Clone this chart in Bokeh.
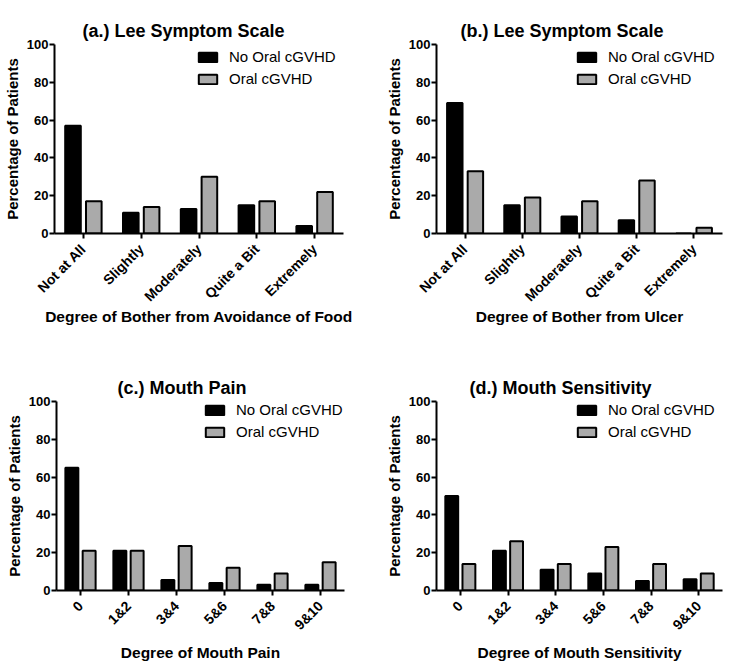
import math
from bokeh.plotting import figure
from bokeh.models import Range1d, FactorRange, FixedTicker, ColumnDataSource
from bokeh.transform import dodge
from bokeh.layouts import column, row
from bokeh.embed import file_html
from bokeh.resources import INLINE

# ---- data ----
lee_categories = ["Not at All", "Slightly", "Moderately", "Quite a Bit", "Extremely"]
scale_categories = ["0", "1&2", "3&4", "5&6", "7&8", "9&10"]

a_no_oral = [57, 11, 13, 15, 4]
a_oral = [17, 14, 30, 17, 22]

b_no_oral = [69, 15, 9, 7, 0]
b_oral = [33, 19, 17, 28, 3]

c_no_oral = [65, 21, 5.6, 4, 3, 3]
c_oral = [21, 21, 23.5, 12, 9, 15]

d_no_oral = [50, 21, 11, 9, 5, 6]
d_oral = [14, 26, 14, 23, 14, 9]

y_ticks = [0, 20, 40, 60, 80, 100]

FONT = "Liberation Sans"


def make_panel(title, cats, no_vals, oral_vals, xlabel, width, height,
               mbl, mbr, mbt, mbb, title_offset, xlabel_standoff, legend_loc):
    src = ColumnDataSource(dict(cat=cats, no=no_vals, oral=oral_vals))
    p = figure(x_range=FactorRange(*cats), y_range=Range1d(0, 100),
               width=width, height=height, output_backend="svg",
               toolbar_location=None, title=title,
               min_border_left=mbl, min_border_right=mbr,
               min_border_top=mbt, min_border_bottom=mbb)
    p.vbar(x=dodge("cat", -0.18, range=p.x_range), top="no", width=0.27,
           source=src, fill_color="black", line_color="black", line_width=2,
           legend_label="No Oral cGVHD")
    p.vbar(x=dodge("cat", 0.18, range=p.x_range), top="oral", width=0.27,
           source=src, fill_color="#aaaaaa", line_color="black", line_width=2,
           legend_label="Oral cGVHD")

    p.title.text_font = FONT
    p.title.text_font_size = "18px"
    p.title.text_font_style = "bold"
    p.title.text_color = "black"
    p.title.align = "left"
    p.title.offset = title_offset
    p.title.standoff = 8

    p.outline_line_color = None
    p.xgrid.grid_line_color = None
    p.ygrid.grid_line_color = None
    p.background_fill_color = "white"

    yax = p.yaxis[0]
    yax.ticker = FixedTicker(ticks=y_ticks)
    yax.minor_tick_line_color = None
    yax.major_tick_in = 0
    yax.major_tick_out = 5
    yax.major_tick_line_width = 2
    yax.axis_line_width = 2
    yax.major_label_text_font = FONT
    yax.major_label_text_font_size = "13px"
    yax.major_label_text_font_style = "bold"
    yax.major_label_text_color = "black"
    yax.major_label_standoff = 1
    yax.axis_label = "Percentage of Patients"
    yax.axis_label_text_font = FONT
    yax.axis_label_text_font_size = "15px"
    yax.axis_label_text_font_style = "bold"
    yax.axis_label_text_color = "black"
    yax.axis_label_standoff = 3

    xax = p.xaxis[0]
    xax.major_tick_in = 0
    xax.major_tick_out = 5
    xax.major_tick_line_width = 2
    xax.axis_line_width = 2
    xax.major_label_orientation = math.pi / 4
    xax.major_label_text_font = FONT
    xax.major_label_text_font_size = "14px"
    xax.major_label_text_font_style = "bold"
    xax.major_label_text_color = "black"
    xax.major_label_standoff = 8
    xax.axis_label = xlabel
    xax.axis_label_text_font = FONT
    xax.axis_label_text_font_size = "15.5px"
    xax.axis_label_text_font_style = "bold"
    xax.axis_label_text_color = "black"
    xax.axis_label_standoff = xlabel_standoff

    lg = p.legend[0]
    lg.location = legend_loc
    lg.margin = 0
    lg.padding = 0
    lg.spacing = 5
    lg.glyph_width = 23
    lg.glyph_height = 12
    lg.label_height = 12
    lg.label_standoff = 10
    lg.label_text_font = FONT
    lg.label_text_font_size = "15px"
    lg.label_text_color = "black"
    lg.background_fill_alpha = 0
    lg.border_line_color = None
    return p


pa = make_panel("(a.) Lee Symptom Scale", lee_categories, a_no_oral, a_oral,
                "Degree of Bother from Avoidance of Food", 357, 328, 53, 14, 44, 95, 28, -5,
                (142, 146))
pb = make_panel("(b.) Lee Symptom Scale", lee_categories, b_no_oral, b_oral,
                "Degree of Bother from Ulcer", 366, 328, 79, 1, 44, 95, 24, -5,
                (139, 146))
pc = make_panel("(c.) Mouth Pain", scale_categories, c_no_oral, c_oral,
                "Degree of Mouth Pain", 357, 340, 56, 13, 73, 78, 61, 3,
                (147, 150))
pd_ = make_panel("(d.) Mouth Sensitivity", scale_categories, d_no_oral, d_oral,
                 "Degree of Mouth Sensitivity", 366, 340, 79, 1, 73, 78, 33, 3,
                 (139, 150))

layout = column(row(pa, pb), row(pc, pd_))

open("out.html", "w").write(file_html(layout, INLINE))
